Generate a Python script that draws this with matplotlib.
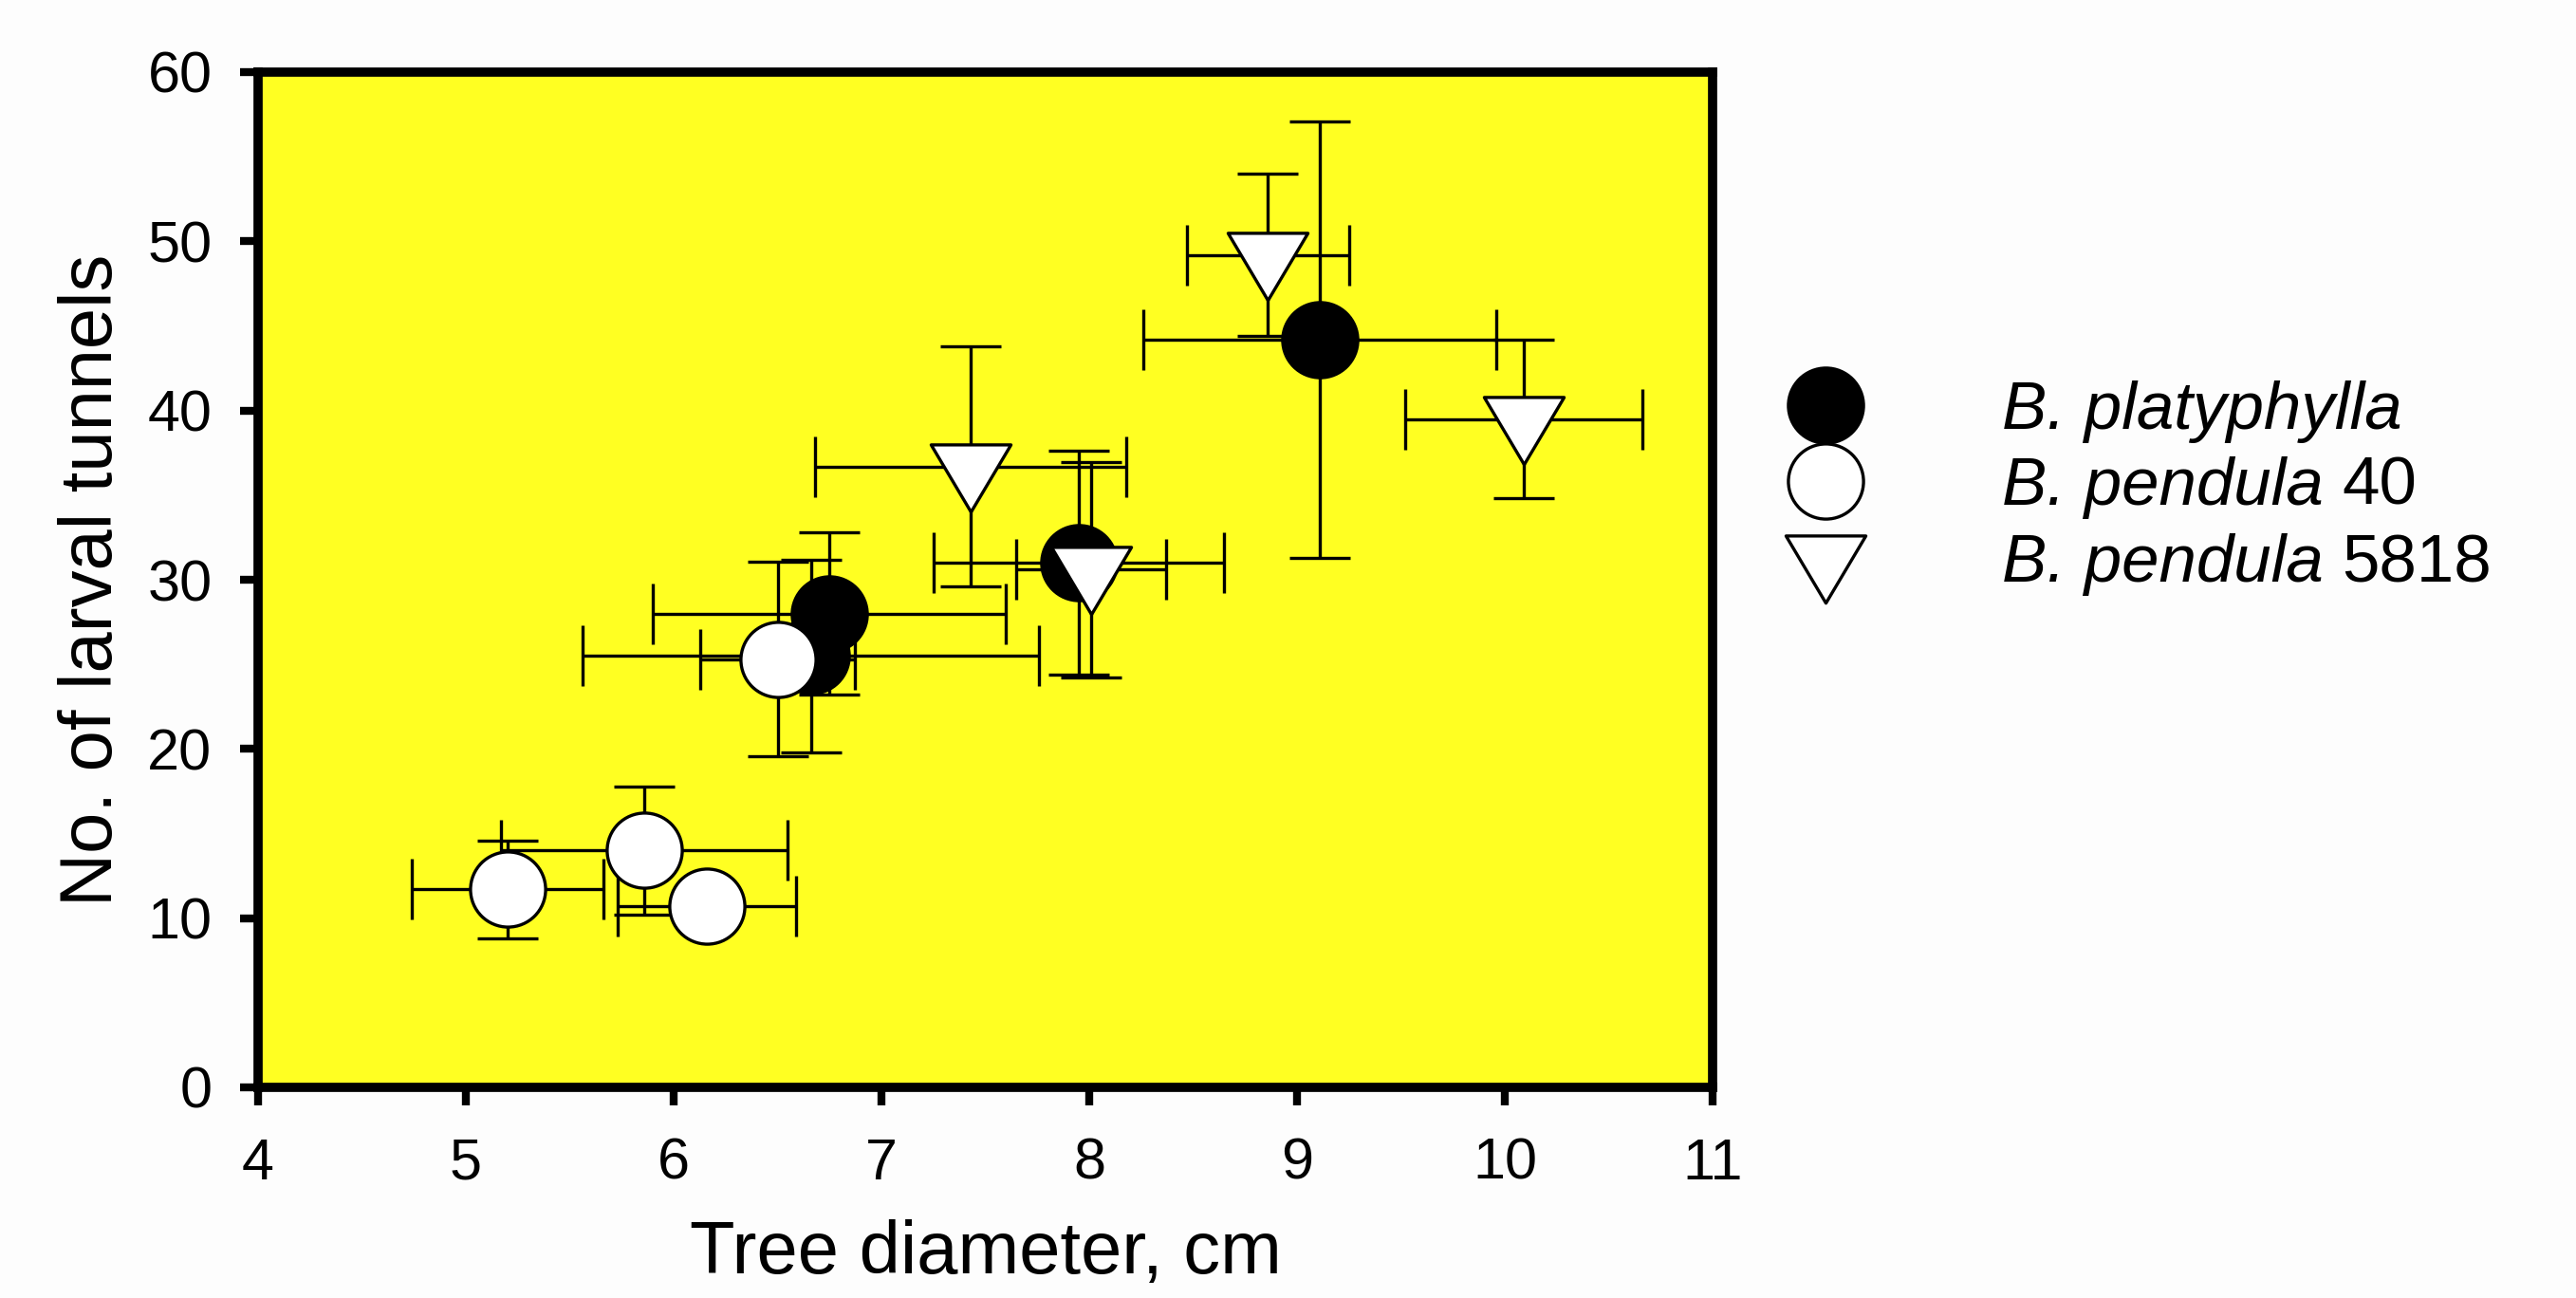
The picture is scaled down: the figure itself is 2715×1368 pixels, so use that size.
import matplotlib
matplotlib.use("Agg")
import matplotlib.pyplot as plt
from matplotlib.path import Path
from matplotlib.lines import Line2D

plt.rcParams['font.family'] = ['Liberation Sans', 'DejaVu Sans']

# ---- data ----
platy_x = [6.75, 6.66, 7.95, 9.11]
platy_y = [28.0, 25.5, 31.0, 44.2]
platy_xerr = [0.85, 1.10, 0.70, 0.85]
platy_yerr = [4.8, 5.7, 6.6, 12.9]

pend40_x = [5.20, 5.86, 6.16, 6.50]
pend40_y = [11.7, 14.0, 10.7, 25.3]
pend40_xerr = [0.46, 0.69, 0.43, 0.37]
pend40_yerr = [2.9, 3.8, 1.2, 5.75]

pend5818_x = [7.43, 8.01, 8.86, 10.09]
pend5818_y = [36.7, 30.6, 49.2, 39.5]
pend5818_xerr = [0.75, 0.36, 0.39, 0.57]
pend5818_yerr = [7.1, 6.35, 4.8, 4.7]

label_italic = ['B. platyphylla', 'B. pendula', 'B. pendula']
label_plain = ['', '40', '5818']
xticks = [4, 5, 6, 7, 8, 9, 10, 11]
yticks = [0, 10, 20, 30, 40, 50, 60]

# triangle marker with its centroid at the data point
tri = Path([(-41, 23), (41, 23), (0, -46), (-41, 23)],
           [Path.MOVETO, Path.LINETO, Path.LINETO, Path.CLOSEPOLY])

W, H, DPI = 2715, 1368, 100
fig = plt.figure(figsize=(W / DPI, H / DPI), dpi=DPI, facecolor='#FDFDFD')
ax = fig.add_axes([272 / W, 1 - 1146 / H, (1805 - 272) / W, (1146 - 76) / H])
ax.set_facecolor('#FFFF22')

circ_ms = 57
tri_ms = 68
elw = 2.4
cap = 23

series = [
    (platy_x, platy_y, platy_xerr, platy_yerr, 'o', circ_ms, 'black', 2),
    (pend40_x, pend40_y, pend40_xerr, pend40_yerr, 'o', circ_ms, 'white', 3),
    (pend5818_x, pend5818_y, pend5818_xerr, pend5818_yerr, tri, tri_ms, 'white', 4),
]
for x, y, xe, ye, mk, ms, fc, z in series:
    ax.errorbar(x, y, xerr=xe, yerr=ye, fmt='none', ecolor='black',
                elinewidth=elw, capsize=cap, capthick=elw, zorder=z)
    ax.plot(x, y, linestyle='none', marker=mk, markersize=ms,
            markerfacecolor=fc, markeredgecolor='black',
            markeredgewidth=elw, zorder=z + 0.5)

ax.set_xlim(4, 11)
ax.set_ylim(0, 60)
ax.set_xticks(xticks)
ax.set_yticks(yticks)
ax.tick_params(direction='out', length=14, width=6, labelsize=44,
               color='black')
ax.tick_params(axis='x', pad=24)
ax.tick_params(axis='y', pad=21)
for s in ax.spines.values():
    s.set_linewidth(7)
    s.set_color('black')

ax.set_xlabel('Tree diameter, cm', fontsize=56)
ax.set_ylabel('No. of larval tunnels', fontsize=56)
ax.xaxis.set_label_coords(0.5, -0.130)
ax.yaxis.set_label_coords(-0.090, 0.5)

# legend (manual)
mk_x = 1924 / W
mk_y = [1 - 427 / H, 1 - 507 / H, 1 - 588 / H]
txt_x = 2110 / W
txt_y = [1 - 452 / H, 1 - 532 / H, 1 - 613 / H]
leg_styles = [('o', circ_ms, 'black'), ('o', circ_ms, 'white'), (tri, tri_ms, 'white')]
fig.canvas.draw()
renderer = fig.canvas.get_renderer()
for (mk, ms, fc), my, ty, it, pl in zip(leg_styles, mk_y, txt_y,
                                         label_italic, label_plain):
    fig.add_artist(Line2D([mk_x], [my], transform=fig.transFigure,
                          linestyle='none', marker=mk, markersize=ms,
                          markerfacecolor=fc, markeredgecolor='black',
                          markeredgewidth=elw))
    t = fig.text(txt_x, ty, it, fontsize=51, style='italic',
                 ha='left', va='baseline')
    if pl:
        bb = t.get_window_extent(renderer)
        space = 51 * DPI / 72 * 0.278
        fig.text((bb.x1 + space) / W, ty, pl, fontsize=51,
                 ha='left', va='baseline')

fig.savefig('out.png', dpi=DPI, facecolor=fig.get_facecolor())
